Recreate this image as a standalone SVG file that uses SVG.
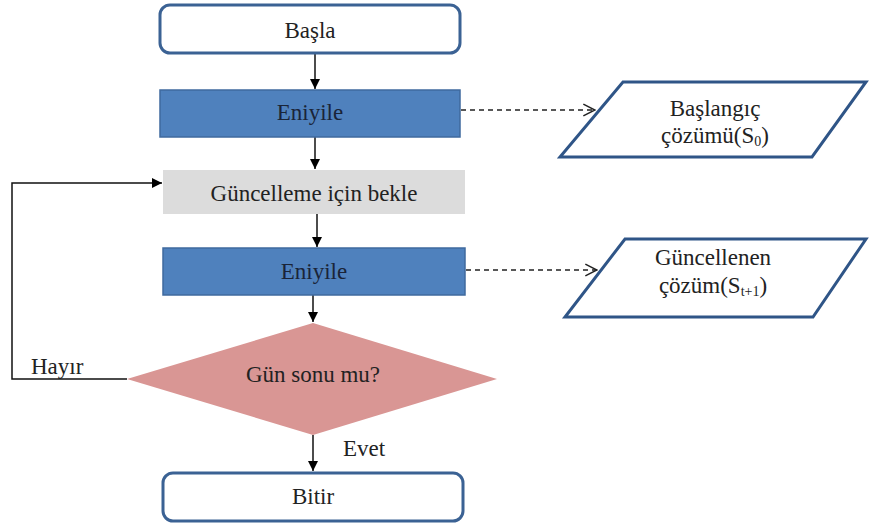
<svg xmlns="http://www.w3.org/2000/svg" width="869" height="525" viewBox="0 0 869 525">
<defs>
<marker id="ah" viewBox="0 0 10 10" refX="10" refY="5" markerWidth="10" markerHeight="10" markerUnits="userSpaceOnUse" orient="auto">
<path d="M0,0 L10,5 L0,10 z" fill="#000"/>
</marker>
<marker id="oh" viewBox="0 0 12 12" refX="11" refY="6" markerWidth="14" markerHeight="14" markerUnits="userSpaceOnUse" orient="auto">
<path d="M1,1 L11,6 L1,11" fill="none" stroke="#222" stroke-width="1.3"/>
</marker>
</defs>
<style>
text{font-family:"Liberation Serif","Times New Roman",serif;font-size:23px;fill:#222;text-anchor:middle}
.term{fill:#fff;stroke:#3B6294;stroke-width:3}
.proc{fill:#4F81BD;stroke:#3F6A9E;stroke-width:1.5}
.proc-t{fill:#1a2438}
.wait{fill:#DCDCDC}
.dec{fill:#D99694}
.io{fill:#fff;stroke:#2F5587;stroke-width:3}
.line{fill:none;stroke:#111;stroke-width:1.5}
.dash{fill:none;stroke:#222;stroke-width:1.3;stroke-dasharray:5 4}
.lbl{text-anchor:start}
</style>
<rect width="869" height="525" fill="#fff"/>
<g id="connectors">
<line class="line" x1="315" y1="53" x2="315" y2="89" marker-end="url(#ah)"/>
<line class="line" x1="315" y1="137" x2="315" y2="169" marker-end="url(#ah)"/>
<line class="line" x1="317" y1="214" x2="317" y2="247" marker-end="url(#ah)"/>
<line class="line" x1="313" y1="295" x2="313" y2="322" marker-end="url(#ah)"/>
<line class="line" x1="313" y1="435" x2="313" y2="471" marker-end="url(#ah)"/>
<polyline class="line" points="127,379 12,379 12,183 162,183" marker-end="url(#ah)"/>
<line class="dash" x1="461" y1="110" x2="595" y2="110" marker-end="url(#oh)"/>
<line class="dash" x1="466" y1="270" x2="597" y2="270" marker-end="url(#oh)"/>
<text class="lbl" x="31" y="374">Hayır</text>
<text class="lbl" x="343" y="456">Evet</text>
</g>
<g id="start">
<rect class="term" x="160" y="5" width="300" height="48" rx="10"/>
<text x="310" y="38">Başla</text>
</g>
<g id="eniyile1">
<rect class="proc" x="160" y="90" width="300" height="47"/>
<text class="proc-t" x="310" y="120">Eniyile</text>
</g>
<g id="wait">
<rect class="wait" x="163" y="170" width="302" height="44"/>
<text x="314" y="201">Güncelleme için bekle</text>
</g>
<g id="eniyile2">
<rect class="proc" x="163" y="248" width="302" height="47"/>
<text class="proc-t" x="314" y="279">Eniyile</text>
</g>
<g id="decision">
<polygon class="dec" points="313,323 497,379 313,435 127,379"/>
<text x="313" y="382">Gün sonu mu?</text>
</g>
<g id="end">
<rect class="term" x="163" y="473" width="300" height="48" rx="10"/>
<text x="313" y="504">Bitir</text>
</g>
<g id="initial-solution">
<polygon class="io" points="623,82 866,82 812,157 560,157"/>
<text x="715" y="116">Başlangıç</text>
<text x="715" y="143">çözümü(S<tspan font-size="14" dy="3">0</tspan><tspan dy="-3">)</tspan></text>
</g>
<g id="updated-solution">
<polygon class="io" points="625,239 866,239 813,317 565,317"/>
<text x="713" y="265">Güncellenen</text>
<text x="713" y="293">çözüm(S<tspan font-size="14" dy="3">t+1</tspan><tspan dy="-3">)</tspan></text>
</g>
</svg>
